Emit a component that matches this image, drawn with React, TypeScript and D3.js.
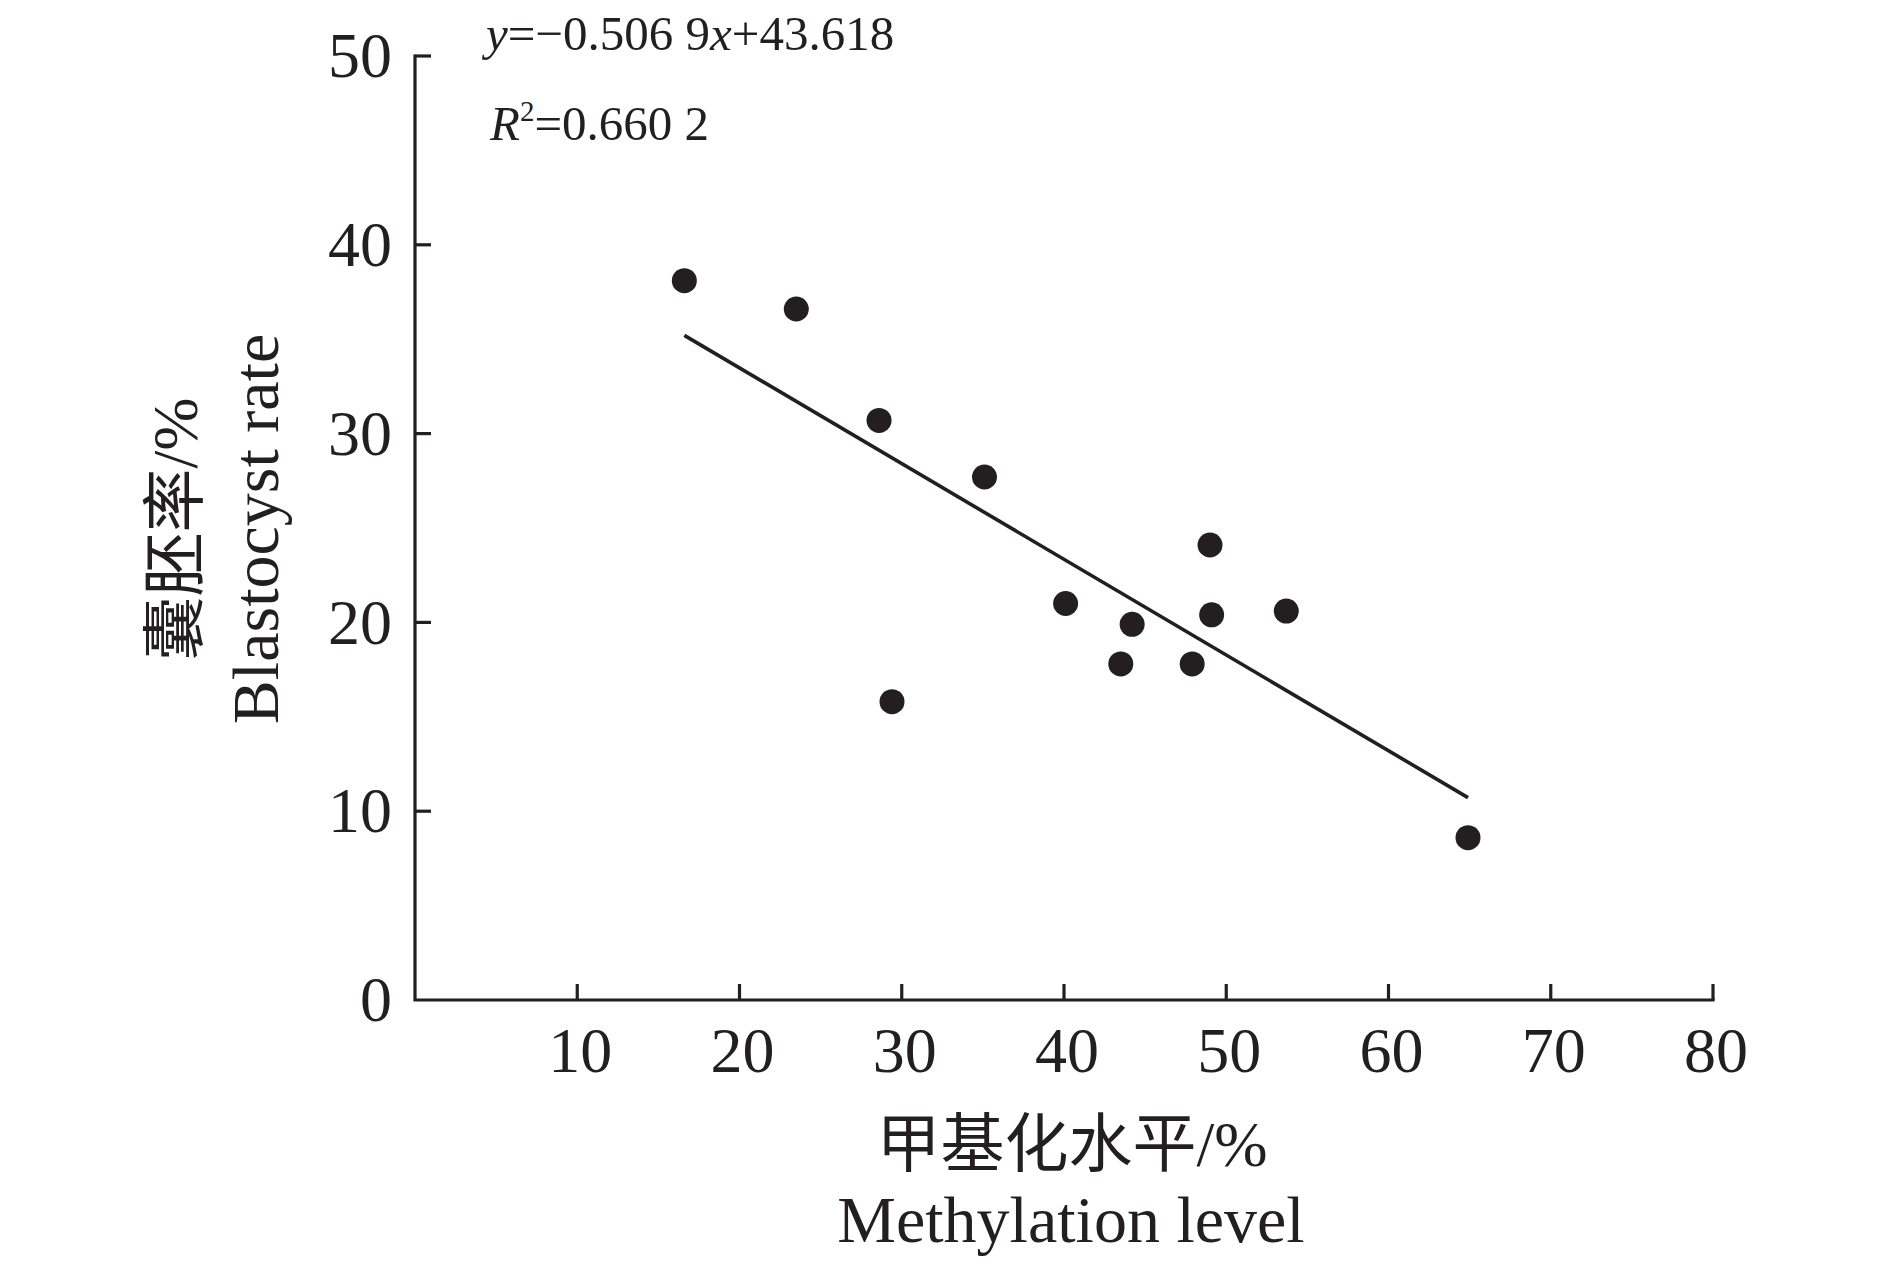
import * as d3 from 'd3'

// methylation level (%) vs blastocyst rate (%)
const methylation = [16.6, 23.5, 28.6, 29.4, 35.1, 40.1, 43.5, 44.2, 47.9, 49.0, 49.1, 53.7, 64.9]
const blastocyst = [38.1, 36.6, 30.7, 15.8, 27.7, 21.0, 17.8, 19.9, 17.8, 24.1, 20.4, 20.6, 8.6]

const xTicks = [10, 20, 30, 40, 50, 60, 70, 80]
const yTicks = [0, 10, 20, 30, 40, 50]

const slope = -0.5069
const intercept = 43.618

const W = 1890
const H = 1266
const INK = '#231f20'
const FONT = "'Liberation Serif', 'Times New Roman', 'Noto Sans CJK SC', serif"

export default function App() {
  const x = d3.scaleLinear().domain([0, 80]).range([415, 1713])
  const y = d3.scaleLinear().domain([0, 50]).range([1000, 56])

  const pts = methylation.map((m, i) => ({ m, b: blastocyst[i] }))
  const [x0, x1] = d3.extent(methylation) as [number, number]
  const fit = d3.line<number>()
    .x(d => x(d))
    .y(d => y(intercept + slope * d))([x0, x1])

  const tickLen = 16

  return (
    <svg
      width={W}
      height={H}
      style={{ position: 'absolute', left: 0, top: 0, background: '#fff' }}
      fontFamily={FONT}
      fill={INK}
    >
      {/* axes */}
      <path
        d={`M${x(0)},${y(50)}V${y(0)}H${x(80)}`}
        fill="none"
        stroke={INK}
        strokeWidth={3.2}
        strokeLinejoin="miter"
        strokeLinecap="square"
      />
      {yTicks.map(t => (
        <g key={'y' + t}>
          {t > 0 && (
            <line x1={x(0)} x2={x(0) + tickLen} y1={y(t)} y2={y(t)} stroke={INK} strokeWidth={3.2} />
          )}
          <text x={392} y={y(t)} dy="0.33em" textAnchor="end" fontSize={64}>
            {t}
          </text>
        </g>
      ))}
      {xTicks.map(t => (
        <g key={'x' + t}>
          <line x1={x(t)} x2={x(t)} y1={y(0)} y2={y(0) - tickLen} stroke={INK} strokeWidth={3.2} />
          <text x={x(t) + 3} y={1072} textAnchor="middle" fontSize={64}>
            {t}
          </text>
        </g>
      ))}

      {/* fitted line */}
      <path d={fit ?? ''} fill="none" stroke={INK} strokeWidth={3.6} />

      {/* points */}
      {pts.map((p, i) => (
        <circle key={i} cx={x(p.m)} cy={y(p.b)} r={12.5} fill={INK} />
      ))}

      {/* equation */}
      <text x={486} y={50} fontSize={49}>
        <tspan fontStyle="italic">y</tspan>
        <tspan>=−0.506 9</tspan>
        <tspan fontStyle="italic">x</tspan>
        <tspan>+43.618</tspan>
      </text>
      <text x={490} y={140} fontSize={49}>
        <tspan fontStyle="italic">R</tspan>
        <tspan fontSize={29} dy={-19}>2</tspan>
        <tspan dy={19}>=0.660 2</tspan>
      </text>

      {/* axis titles */}
      <text x={1072} y={1166} textAnchor="middle" fontSize={64}>
        甲基化水平/%
      </text>
      <text x={1071} y={1242} textAnchor="middle" fontSize={66}>
        Methylation level
      </text>
      <text transform="translate(197,529) rotate(-90)" textAnchor="middle" fontSize={64}>
        囊胚率/%
      </text>
      <text transform="translate(278,529) rotate(-90)" textAnchor="middle" fontSize={66}>
        Blastocyst rate
      </text>
    </svg>
  )
}
